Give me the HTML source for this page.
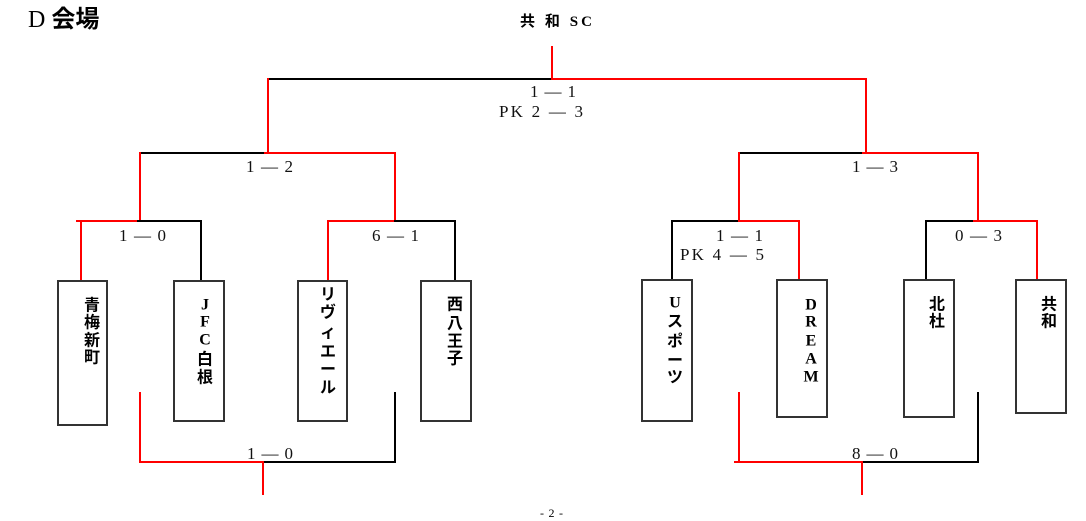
<!DOCTYPE html>
<html><head><meta charset="utf-8"><style>
html,body{margin:0;padding:0;background:#fff;}
svg{display:block;}
.s{font-family:"Liberation Serif","Noto Serif CJK SC",serif;font-size:17px;fill:#111;}
.c{font-family:"Liberation Serif","Noto Sans CJK JP",sans-serif;font-size:16px;font-weight:bold;fill:#000;text-anchor:middle;dominant-baseline:central;}
</style></head><body>
<svg width="1086" height="521" viewBox="0 0 1086 521" xmlns="http://www.w3.org/2000/svg">
<text x="28" y="27" font-family="Liberation Serif,Noto Sans CJK JP,serif" font-size="24" fill="#000">D <tspan font-family="Noto Sans CJK JP,sans-serif" font-weight="bold">会場</tspan></text>
<text x="520" y="26" font-family="Liberation Serif,Noto Sans CJK JP,serif" font-size="15" font-weight="bold" fill="#000" textLength="72">共 和 SC</text>
<g stroke-width="2" fill="none" stroke-linecap="square">
<line x1="552" y1="47" x2="552" y2="79" stroke="#f00"/>
<line x1="268" y1="79" x2="552" y2="79" stroke="#000"/>
<line x1="552" y1="79" x2="866" y2="79" stroke="#f00"/>
<line x1="268" y1="79" x2="268" y2="153" stroke="#f00"/>
<line x1="866" y1="79" x2="866" y2="153" stroke="#f00"/>
<line x1="140" y1="153" x2="265" y2="153" stroke="#000"/>
<line x1="265" y1="153" x2="395" y2="153" stroke="#f00"/>
<line x1="140" y1="153" x2="140" y2="221" stroke="#f00"/>
<line x1="395" y1="153" x2="395" y2="221" stroke="#f00"/>
<line x1="739" y1="153" x2="863" y2="153" stroke="#000"/>
<line x1="863" y1="153" x2="978" y2="153" stroke="#f00"/>
<line x1="739" y1="153" x2="739" y2="221" stroke="#f00"/>
<line x1="978" y1="153" x2="978" y2="221" stroke="#f00"/>
<line x1="77" y1="221" x2="138" y2="221" stroke="#f00"/>
<line x1="138" y1="221" x2="201" y2="221" stroke="#000"/>
<line x1="81" y1="221" x2="81" y2="280" stroke="#f00"/>
<line x1="201" y1="221" x2="201" y2="280" stroke="#000"/>
<line x1="328" y1="221" x2="395" y2="221" stroke="#f00"/>
<line x1="395" y1="221" x2="455" y2="221" stroke="#000"/>
<line x1="328" y1="221" x2="328" y2="280" stroke="#f00"/>
<line x1="455" y1="221" x2="455" y2="280" stroke="#000"/>
<line x1="672" y1="221" x2="739" y2="221" stroke="#000"/>
<line x1="739" y1="221" x2="799" y2="221" stroke="#f00"/>
<line x1="672" y1="221" x2="672" y2="280" stroke="#000"/>
<line x1="799" y1="221" x2="799" y2="280" stroke="#f00"/>
<line x1="926" y1="221" x2="974" y2="221" stroke="#000"/>
<line x1="974" y1="221" x2="1037" y2="221" stroke="#f00"/>
<line x1="926" y1="221" x2="926" y2="280" stroke="#000"/>
<line x1="1037" y1="221" x2="1037" y2="280" stroke="#f00"/>
<line x1="140" y1="393" x2="140" y2="462" stroke="#f00"/>
<line x1="140" y1="462" x2="263" y2="462" stroke="#f00"/>
<line x1="263" y1="462" x2="395" y2="462" stroke="#000"/>
<line x1="395" y1="393" x2="395" y2="462" stroke="#000"/>
<line x1="263" y1="462" x2="263" y2="494" stroke="#f00"/>
<line x1="739" y1="393" x2="739" y2="462" stroke="#f00"/>
<line x1="735" y1="462" x2="862" y2="462" stroke="#f00"/>
<line x1="862" y1="462" x2="978" y2="462" stroke="#000"/>
<line x1="978" y1="393" x2="978" y2="462" stroke="#000"/>
<line x1="862" y1="462" x2="862" y2="494" stroke="#f00"/>
</g>
<g fill="#fff" stroke="#333" stroke-width="2">
<rect x="58" y="281" width="49" height="144"/>
<rect x="174" y="281" width="50" height="140"/>
<rect x="298" y="281" width="49" height="140"/>
<rect x="421" y="281" width="50" height="140"/>
<rect x="642" y="280" width="50" height="141"/>
<rect x="777" y="280" width="50" height="137"/>
<rect x="904" y="280" width="50" height="137"/>
<rect x="1016" y="280" width="50" height="133"/>
</g>
<g class="s">
<text x="530" y="97" textLength="46">1 ― 1</text>
<text x="499" y="117" textLength="84">PK  2 ― 3</text>
<text x="246" y="172" textLength="47">1 ― 2</text>
<text x="852" y="172" textLength="46">1 ― 3</text>
<text x="119" y="241" textLength="47">1 ― 0</text>
<text x="372" y="241" textLength="47">6 ― 1</text>
<text x="716" y="241" textLength="47">1 ― 1</text>
<text x="680" y="260" textLength="84">PK  4 ― 5</text>
<text x="955" y="241" textLength="47">0 ― 3</text>
<text x="247" y="459" textLength="46">1 ― 0</text>
<text x="852" y="459" textLength="46">8 ― 0</text>
</g>
<g class="c">
<text x="92" y="306">青</text><text x="92" y="323">梅</text><text x="92" y="341">新</text><text x="92" y="358">町</text>
<text x="205" y="305">J</text><text x="205" y="322">F</text><text x="205" y="340">C</text><text x="205" y="360">白</text><text x="205" y="378">根</text>
<text x="328" y="295">リ</text><text x="328" y="313">ヴ</text><text x="328" y="333">ィ</text><text x="328" y="352">エ</text><text x="328" y="370">ー</text><text x="328" y="388">ル</text>
<text x="455" y="305">西</text><text x="455" y="324">八</text><text x="455" y="342">王</text><text x="455" y="359">子</text>
<text x="675" y="303">U</text><text x="675" y="322">ス</text><text x="675" y="342">ポ</text><text x="675" y="361">ー</text><text x="675" y="378">ツ</text>
<text x="811" y="305">D</text><text x="811" y="322">R</text><text x="811" y="341">E</text><text x="811" y="359">A</text><text x="811" y="377">M</text>
<text x="937" y="305">北</text><text x="937" y="322">杜</text>
<text x="1049" y="305">共</text><text x="1049" y="322">和</text>
</g>
<text x="540" y="517" font-family="Liberation Serif,serif" font-size="12" fill="#000" textLength="23">- 2 -</text>
</svg>
</body></html>
